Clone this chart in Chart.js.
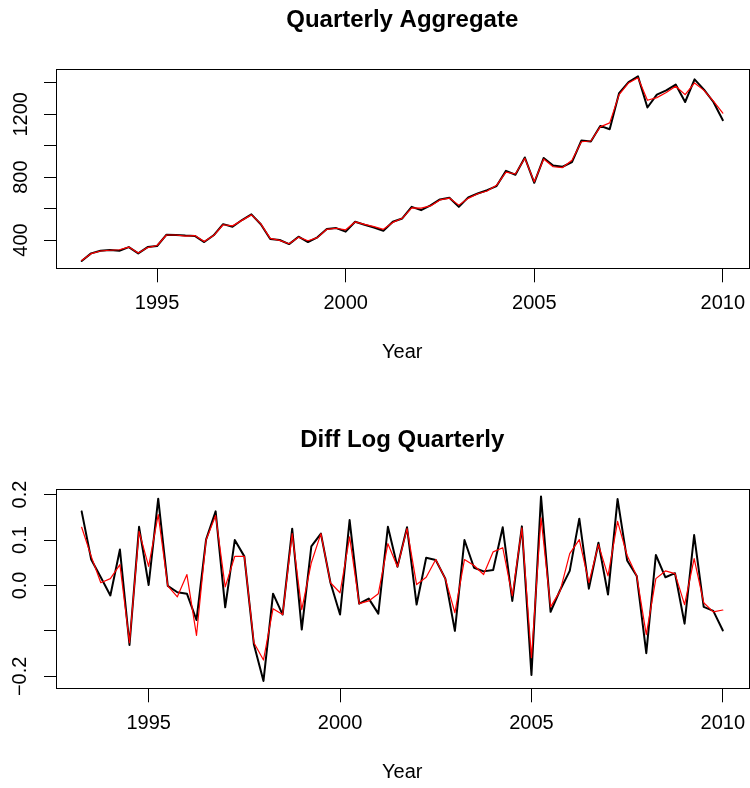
<!DOCTYPE html>
<html>
<head>
<meta charset="utf-8">
<script src="https://cdn.jsdelivr.net/npm/chart.js@4"></script>
<style>
  html, body { margin: 0; padding: 0; background: #fff; overflow: hidden; width: 750px; height: 788px; }
  canvas { position: absolute; left: 0; }
  #top { top: 0; }
  #bottom { top: 420px; }
</style>
</head>
<body>
<canvas id="top" width="750" height="394"></canvas>
<canvas id="bottom" width="750" height="394"></canvas>
<script>
// quarterly series, ts(start = 1993, frequency = 4)
const aggStart = 1993;
const diffStart = 1993.25;
const freq = 4;

const aggregate = [
  267, 315, 332, 336, 332, 355, 315, 355, 362, 434,
  432, 428, 426, 387, 430, 501, 484, 527, 563, 500,
  406, 400, 374, 421, 387, 417, 470, 476, 453, 516,
  497, 480, 459, 516, 537, 611, 590, 620, 658, 669,
  611, 671, 696, 717, 743, 840, 815, 925, 764, 922,
  874, 866, 895, 1033, 1027, 1126, 1105, 1335, 1405, 1441,
  1243, 1325, 1352, 1389, 1278, 1422, 1357, 1278, 1162
];
const aggregateFit = [
  270, 313, 330, 335, 338, 355, 318, 352, 365, 432,
  432, 425, 428, 390, 428, 497, 490, 525, 560, 503,
  410, 398, 376, 418, 395, 415, 468, 475, 465, 515,
  500, 485, 468, 512, 538, 605, 603, 617, 655, 667,
  622, 665, 694, 712, 748, 832, 820, 920, 770, 915,
  866, 861, 907, 1025, 1030, 1120, 1145, 1325, 1399, 1432,
  1289, 1306, 1338, 1378, 1325, 1399, 1352, 1283, 1208
];

const diffLog = [
  0.163, 0.057, 0.018, -0.022, 0.079, -0.131, 0.129, 0.001, 0.191, -0.001,
  -0.015, -0.018, -0.076, 0.101, 0.163, -0.048, 0.100, 0.064, -0.130, -0.210,
  -0.018, -0.064, 0.125, -0.097, 0.086, 0.114, 0.006, -0.064, 0.144, -0.040,
  -0.029, -0.062, 0.129, 0.041, 0.128, -0.042, 0.061, 0.056, 0.015, -0.100,
  0.100, 0.039, 0.031, 0.034, 0.128, -0.034, 0.130, -0.197, 0.196, -0.058,
  -0.010, 0.032, 0.147, -0.007, 0.094, -0.020, 0.190, 0.055, 0.021, -0.149,
  0.067, 0.018, 0.027, -0.084, 0.111, -0.047, -0.056, -0.099
];
const diffLogFit = [
  0.128, 0.064, 0.006, 0.015, 0.046, -0.126, 0.119, 0.042, 0.156, -0.001,
  -0.025, 0.024, -0.110, 0.100, 0.154, -0.003, 0.064, 0.064, -0.126, -0.164,
  -0.051, -0.064, 0.114, -0.053, 0.050, 0.114, 0.006, -0.016, 0.107, -0.040,
  -0.034, -0.018, 0.092, 0.041, 0.125, 0.002, 0.018, 0.057, 0.015, -0.060,
  0.057, 0.044, 0.024, 0.074, 0.083, -0.023, 0.127, -0.159, 0.149, -0.047,
  -0.012, 0.070, 0.101, 0.006, 0.090, 0.021, 0.141, 0.066, 0.021, -0.108,
  0.015, 0.032, 0.026, -0.042, 0.059, -0.038, -0.058, -0.054
];

const xTicks = [1995, 2000, 2005, 2010];
const aggTicks = [400, 600, 800, 1000, 1200, 1400];
const aggTickLabels = ['400', '', '800', '', '1200', ''];
const diffTicks = [-0.2, -0.1, 0, 0.1, 0.2];
const diffTickLabels = ['\u22120.2', '', '0.0', '0.1', '0.2'];

Chart.defaults.font.family = "'Liberation Sans', Arial, Helvetica, sans-serif";
Chart.defaults.color = '#000';

// R style: extend range by 4% each side
function padRange(lo, hi) {
  const d = (hi - lo) * 0.04;
  return [lo - d, hi + d];
}

const boxPlugin = {
  id: 'box',
  afterDatasetsDraw(chart) {
    const a = chart.chartArea;
    const ctx = chart.ctx;
    ctx.save();
    ctx.strokeStyle = '#000';
    ctx.lineWidth = 1;
    ctx.strokeRect(Math.round(a.left) + 0.5, Math.round(a.top) + 0.5,
      Math.round(a.right - a.left), Math.round(a.bottom - a.top));
    ctx.restore();
  }
};

function makePanel(id, title, start, black, red, yTicks, yLabels, yPad) {
  const toPts = arr => arr.map((v, i) => ({ x: start + i / freq, y: v }));
  const [xMin, xMax] = padRange(start, start + (black.length - 1) / freq);
  const all = black.concat(red);
  const [yMin, yMax] = padRange(Math.min(...all), Math.max(...all));

  return new Chart(document.getElementById(id), {
    type: 'line',
    data: {
      datasets: [
        { data: toPts(red), borderColor: '#ff0000', borderWidth: 1.2, order: 1 },
        { data: toPts(black), borderColor: '#000000', borderWidth: 2, order: 2 }
      ]
    },
    plugins: [boxPlugin],
    options: {
      responsive: false,
      animation: false,
      devicePixelRatio: 1,
      layout: { padding: { left: 0, right: 1.5, top: 0, bottom: 0 } },
      elements: {
        point: { radius: 0 },
        line: { tension: 0, borderJoinStyle: 'round', borderCapStyle: 'round' }
      },
      plugins: {
        legend: { display: false },
        tooltip: { enabled: false },
        title: {
          display: true,
          text: title,
          fullSize: false,
          color: '#000',
          font: { size: 24, weight: 'bold', lineHeight: 1.2 },
          padding: { top: 6, bottom: 34.2 }
        }
      },
      scales: {
        x: {
          type: 'linear',
          min: xMin,
          max: xMax,
          afterBuildTicks: s => { s.ticks = xTicks.map(v => ({ value: v })); },
          afterFit: s => { s.height = 125.7; },
          grid: { drawOnChartArea: false, tickLength: 14, color: '#000' },
          border: { display: false },
          ticks: {
            color: '#000', padding: 0, autoSkip: false, maxRotation: 0,
            font: { size: 20, lineHeight: 2.07 },
            callback: v => String(v)
          },
          title: {
            display: true, text: 'Year', color: '#000',
            font: { size: 20, lineHeight: 1.2 },
            padding: { top: 0, bottom: 30 }
          }
        },
        y: {
          type: 'linear',
          min: yMin,
          max: yMax,
          afterBuildTicks: s => { s.ticks = yTicks.map(v => ({ value: v })); },
          afterFit: s => { s.width = 56; },
          grid: { drawOnChartArea: false, tickLength: 12, color: '#000' },
          border: { display: false },
          ticks: {
            color: '#000', padding: yPad, autoSkip: false,
            crossAlign: 'center', minRotation: 90, maxRotation: 90,
            font: { size: 20 },
            callback: (v, i) => yLabels[i]
          }
        }
      }
    }
  });
}

makePanel('top', 'Quarterly Aggregate', aggStart, aggregate, aggregateFit,
  aggTicks, aggTickLabels, 0);
makePanel('bottom', 'Diff Log Quarterly', diffStart, diffLog, diffLogFit,
  diffTicks, diffTickLabels, 4);
</script>
</body>
</html>
